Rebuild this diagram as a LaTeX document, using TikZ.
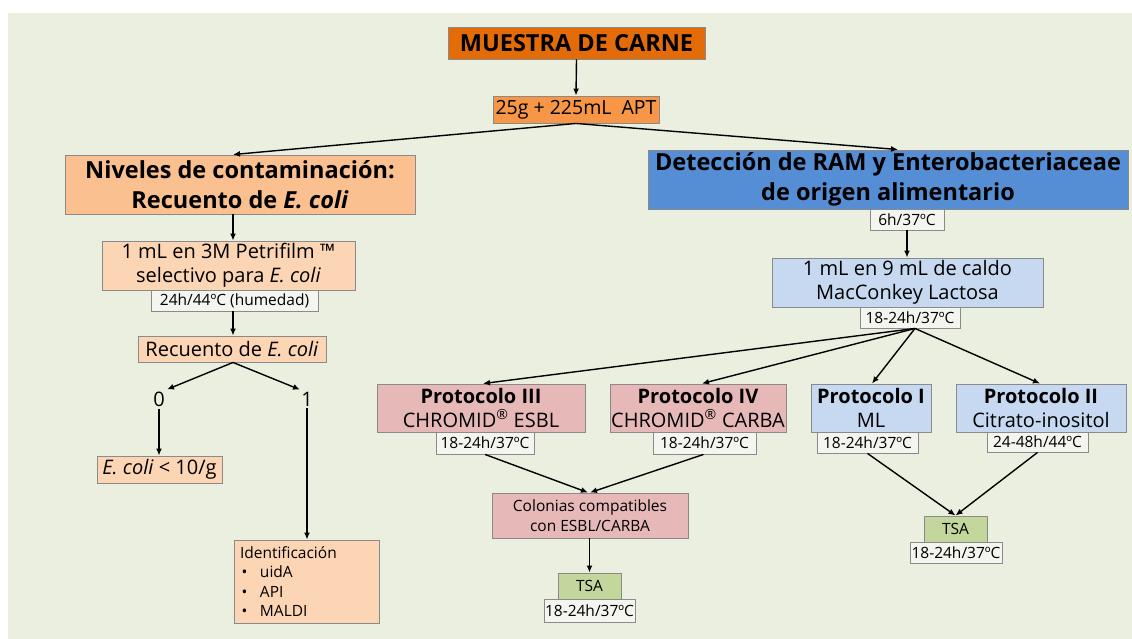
\documentclass[tikz,border=0pt]{standalone}
\usepackage{fontspec}
\setmainfont{Open Sans}
\usetikzlibrary{arrows.meta}
\definecolor{bg}{HTML}{EBEFE0}
\definecolor{dorange}{HTML}{E36C09}
\definecolor{morange}{HTML}{F79646}
\definecolor{peach}{HTML}{FAC090}
\definecolor{lpeach}{HTML}{FCD5B5}
\definecolor{dblue}{HTML}{558ED5}
\definecolor{lblue}{HTML}{C6D9F1}
\definecolor{pink}{HTML}{E6B9B8}
\definecolor{lgreen}{HTML}{C3D69B}
\definecolor{timefill}{HTML}{F3F5EE}
\definecolor{bordergray}{HTML}{8A8A8A}
\tikzset{
  box/.style={draw=bordergray, line width=0.9pt, inner sep=0pt, align=center, text=black},
  bigfont/.style={font=\fontsize{23.5}{30}\selectfont\bfseries},
  midfont/.style={font=\fontsize{20}{23.5}\selectfont},
  smallfont/.style={font=\fontsize{15.5}{19.5}\selectfont},
  timebox/.style={box, fill=timefill, smallfont},
  arr/.style={-{Latex[length=7pt,width=6pt]}, line width=1.4pt, black},
  lbl/.style={inner sep=2pt, midfont}
}
\begin{document}
\begin{tikzpicture}[x=1pt,y=-1pt]
\useasboundingbox (0,0) rectangle (1132,639);
\fill[white] (0,0) rectangle (1132,639);
\fill[bg] (8,13) rectangle (1132,639);

% top
\node[box, fill=dorange, bigfont, minimum width=257pt, minimum height=32pt] (muestra) at (576.5,43) {MUESTRA DE CARNE};
\node[box, fill=morange, font=\fontsize{19.5}{23}\selectfont, minimum width=166pt, minimum height=27pt] (apt) at (576,109.5) {25g + 225mL\ \ APT};

% left branch
\node[box, fill=peach, bigfont, minimum width=350pt, minimum height=59pt] (niveles) at (240,184.5) {Niveles de contaminación:\\Recuento de \textit{E. coli}};
\node[box, fill=lpeach, midfont, minimum width=253pt, minimum height=49pt] (petri) at (228.5,265.5) {1 mL en 3M Petrifilm ™\\selectivo para \textit{E. coli}};
\node[timebox, minimum width=167pt, minimum height=21pt] (t1) at (234.5,300.5) {24h/44ºC (humedad)};
\node[box, fill=lpeach, midfont, minimum width=188pt, minimum height=26pt] (rec) at (232,349) {Recuento de \textit{E. coli}};
\node[lbl] (zero) at (159,399) {0};
\node[lbl] (one) at (307,399) {1};
\node[box, fill=lpeach, midfont, minimum width=125pt, minimum height=27pt] (ecoli) at (159.5,469.5) {\textit{E. coli} < 10/g};
\node[box, fill=lpeach, smallfont, align=left, text width=133pt, inner xsep=6pt, minimum height=83pt] (ident) at (306.5,581.5)
  {Identificación\\\makebox[20pt][l]{\hspace{1.5pt}•}uidA\\\makebox[20pt][l]{\hspace{1.5pt}•}API\\\makebox[20pt][l]{\hspace{1.5pt}•}MALDI};
\coordinate (lx) at (233,0);

% right branch
\node[box, fill=dblue, bigfont, minimum width=480pt, minimum height=59pt] (detec) at (888,179.5) {Detección de RAM y Enterobacteriaceae\\de origen alimentario};
\node[timebox, minimum width=74pt, minimum height=21pt] (t2) at (907,219.5) {6h/37ºC};
\node[box, fill=lblue, midfont, minimum width=271pt, minimum height=49pt] (mac) at (907.5,282.5) {1 mL en 9 mL de caldo\\MacConkey Lactosa};
\node[timebox, minimum width=100pt, minimum height=21pt] (t3) at (910,317.5) {18-24h/37ºC};

\node[box, fill=pink, midfont, minimum width=208pt, minimum height=48pt] (p3) at (481,408) {\textbf{Protocolo III}\\CHROMID\textsuperscript{®} ESBL};
\node[timebox, minimum width=98pt, minimum height=22pt] (t4) at (485,443) {18-24h/37ºC};
\node[box, fill=pink, midfont, minimum width=176pt, minimum height=48pt] (p4) at (698,408) {\textbf{Protocolo IV}\\CHROMID\textsuperscript{®} CARBA};
\node[timebox, minimum width=103pt, minimum height=22pt] (t5) at (704.5,443) {18-24h/37ºC};
\node[box, fill=lblue, midfont, minimum width=120pt, minimum height=48pt] (p1) at (871,408) {\textbf{Protocolo I}\\ML};
\node[timebox, minimum width=101pt, minimum height=21pt] (t6) at (867.5,442.5) {18-24h/37ºC};
\node[box, fill=lblue, midfont, minimum width=170pt, minimum height=48pt] (p2) at (1041,408) {\textbf{Protocolo II}\\Citrato-inositol};
\node[timebox, minimum width=101pt, minimum height=20pt] (t7) at (1037.5,442) {24-48h/44ºC};

\node[box, fill=pink, smallfont, minimum width=196pt, minimum height=45pt] (col) at (590,515.5) {Colonias compatibles\\con ESBL/CARBA};
\node[box, fill=lgreen, smallfont, minimum width=63pt, minimum height=26pt] (tsa2) at (589.5,586) {TSA};
\node[timebox, minimum width=91pt, minimum height=23pt] (t9) at (589.5,610.5) {18-24h/37ºC};
\node[box, fill=lgreen, smallfont, minimum width=63pt, minimum height=26pt] (tsa1) at (955.5,529) {TSA};
\node[timebox, minimum width=92pt, minimum height=21pt] (t8) at (956,552.5) {18-24h/37ºC};

% connectors
\draw[arr] (muestra.south) -- (apt.north);
\draw[arr] (apt.south) -- (niveles.north -| lx);
\draw[arr] (apt.south) -- ([xshift=10pt]detec.north);
\draw[arr] (niveles.south -| lx) -- (petri.north -| lx);
\draw[arr] (t1.south -| lx) -- (rec.north -| lx);
\draw[arr] (rec.south -| lx) -- ([xshift=8pt]zero.north);
\draw[arr] (rec.south -| lx) -- ([xshift=-7pt]one.north);
\draw[arr] (zero.south) -- (ecoli.north -| zero.south);
\draw[arr] (one.south) -- (ident.north -| one.south);
\draw[arr] (t2.south) -- (mac.north -| t2.south);
\draw[arr] ([xshift=5pt]t3.south) -- ([xshift=2pt]p3.north);
\draw[arr] ([xshift=5pt]t3.south) -- ([xshift=4pt]p4.north);
\draw[arr] ([xshift=5pt]t3.south) -- ([xshift=1pt]p1.north);
\draw[arr] ([xshift=5pt]t3.south) -- ([xshift=-1pt]p2.north);
\draw[arr] (t4.south) -- ([xshift=-2pt]col.north);
\draw[arr] ([xshift=-1pt]t5.south) -- (col.north);
\draw[arr] (col.south -| tsa2.north) -- (tsa2.north);
\draw[arr] (t6.south) -- (tsa1.north);
\draw[arr] (t7.south) -- (tsa1.north);
\end{tikzpicture}
\end{document}
